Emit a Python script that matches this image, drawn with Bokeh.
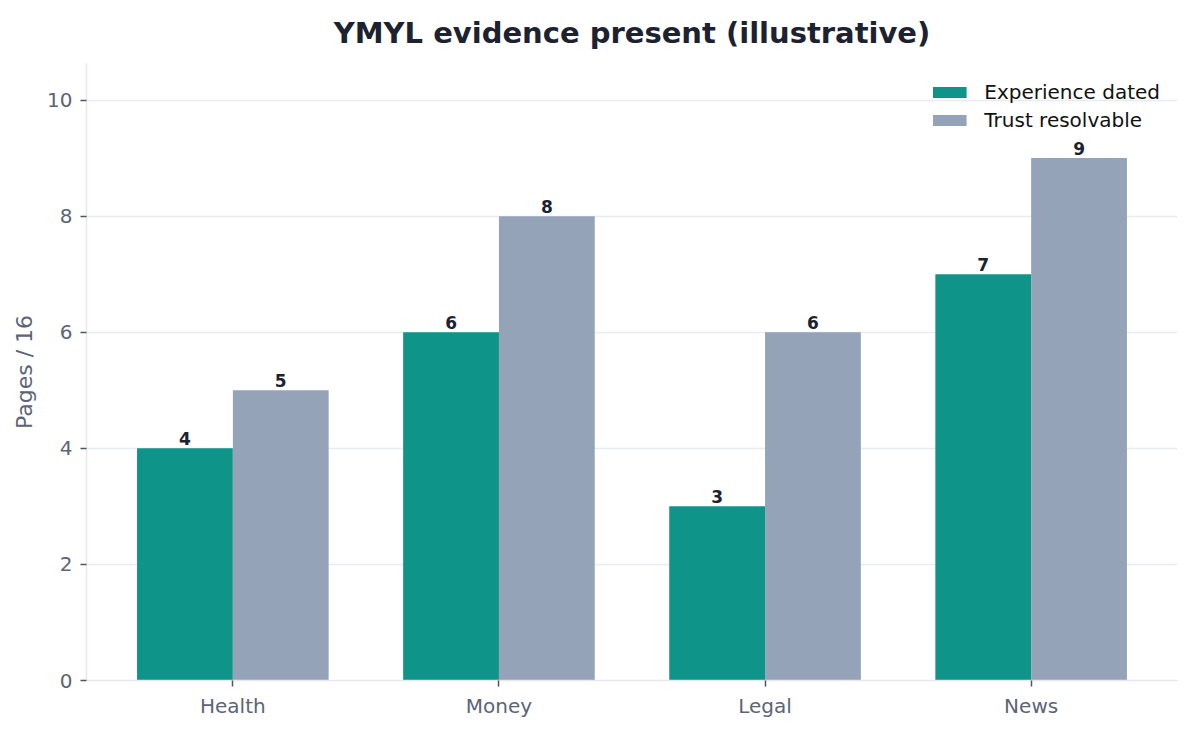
from bokeh.plotting import figure
from bokeh.models import ColumnDataSource, Range1d, FactorRange, Legend, LegendItem, SingleIntervalTicker
from bokeh.transform import dodge
from bokeh.embed import file_html
from bokeh.resources import INLINE

categories = ["Health", "Money", "Legal", "News"]
experience_dated = [4, 6, 3, 7]
trust_resolvable = [5, 8, 6, 9]
series_names = ["Experience dated", "Trust resolvable"]
colors = ["#0e9488", "#94a3b8"]

src = ColumnDataSource(dict(cat=categories, exp=experience_dated, trust=trust_resolvable,
                            exp_lbl=[str(v) for v in experience_dated],
                            trust_lbl=[str(v) for v in trust_resolvable]))

FONT = "DejaVu Sans"
p = figure(x_range=FactorRange(factors=categories, range_padding=0.025, range_padding_units="percent"),
           y_range=Range1d(0, 10.63),
           width=1193, height=731, output_backend="svg", toolbar_location=None,
           min_border_left=86, min_border_right=16, min_border_top=63, min_border_bottom=51)

p.title.text = "YMYL evidence present (illustrative)"
p.title.align = "center"
p.title.text_font = FONT
p.title.text_font_size = "29px"
p.title.text_font_style = "bold"
p.title.text_color = "#1c2230"
p.title.offset = 0
p.title.standoff = 27

w = 0.36
r1 = p.vbar(x=dodge("cat", -w / 2, range=p.x_range), top="exp", width=w, source=src,
            fill_color=colors[0], line_color=None)
r2 = p.vbar(x=dodge("cat", w / 2, range=p.x_range), top="trust", width=w, source=src,
            fill_color=colors[1], line_color=None)

for col, lbl, off in (("exp", "exp_lbl", -w / 2), ("trust", "trust_lbl", w / 2)):
    p.text(x=dodge("cat", off, range=p.x_range), y=col, text=lbl, source=src,
           text_align="center", text_baseline="bottom", y_offset=-3,
           text_font={"value": FONT}, text_font_size="17px", text_font_style="bold",
           text_color="#1c2230")

legend = Legend(items=[LegendItem(label=series_names[0], renderers=[r1]),
                       LegendItem(label=series_names[1], renderers=[r2])],
                location="top_right", border_line_color=None, background_fill_alpha=0,
                label_text_font=FONT, label_text_font_size="20px", label_text_color="#111111",
                glyph_width=42, glyph_height=14, spacing=4, label_standoff=14,
                margin=17, padding=7)
p.add_layout(legend)

p.xgrid.grid_line_color = None
p.ygrid.grid_line_color = "#e8ebef"
p.ygrid.grid_line_width = 1.5
p.yaxis.ticker = SingleIntervalTicker(interval=2)
p.outline_line_color = None

for ax in (p.xaxis[0], p.yaxis[0]):
    ax.axis_line_color = "#e5e8ee"
    ax.axis_line_width = 1.5
    ax.major_tick_line_color = "#4b5563"
    ax.major_tick_line_width = 1.5
    ax.major_tick_out = 6
    ax.major_tick_in = 0
    ax.minor_tick_line_color = None
    ax.major_label_text_font = FONT
    ax.major_label_text_font_size = "20px"
    ax.major_label_text_color = "#5b6478"
    ax.axis_label_text_font = FONT

p.yaxis.axis_label = "Pages / 16"
p.yaxis.axis_label_text_font_size = "22px"
p.yaxis.axis_label_text_font_style = "normal"
p.yaxis.axis_label_text_color = "#5b6478"
p.yaxis.major_label_standoff = 8
p.yaxis.axis_label_standoff = 7
p.xaxis.major_label_standoff = 7

open("out.html", "w").write(file_html(p, INLINE))
